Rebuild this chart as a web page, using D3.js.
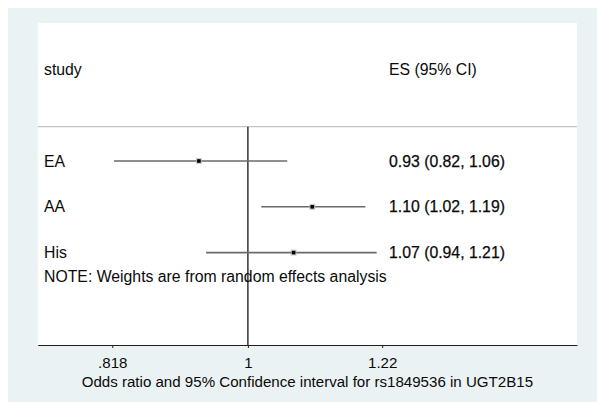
<!DOCTYPE html>
<html>
<head>
<meta charset="utf-8">
<script src="https://cdn.jsdelivr.net/npm/d3@7"></script>
<style>
  html, body { margin: 0; padding: 0; background: #ffffff; }
  svg { display: block; font-family: "Liberation Sans", Arial, Helvetica, sans-serif; }
</style>
</head>
<body>
<svg id="chart" width="597" height="402"></svg>
<script>
// Study-level odds ratios with 95% confidence intervals
const studies = ["EA", "AA", "His"];
const estimates = [0.93, 1.10, 1.07];
const lower = [0.82, 1.02, 0.94];
const upper = [1.06, 1.19, 1.21];
const esLabels = ["0.93 (0.82, 1.06)", "1.10 (1.02, 1.19)", "1.07 (0.94, 1.21)"];
const tickValues = [0.818, 1, 1.22];
const tickLabels = [".818", "1", "1.22"];
const xTitle = "Odds ratio and 95% Confidence interval for rs1849536 in UGT2B15";
const note = "NOTE: Weights are from random effects analysis";

const svg = d3.select("#chart");
const W = 597, H = 402;

// outer background (light slate) with a thin white strip at top/left
svg.append("rect").attr("x", 0).attr("y", 0).attr("width", W).attr("height", H).attr("fill", "#ffffff");
svg.append("rect").attr("x", 8).attr("y", 8).attr("width", W - 8).attr("height", H - 8).attr("fill", "#eaf2f3");

const plot = { left: 37.7, right: 577, top: 23, bottom: 345 };
svg.append("rect")
  .attr("x", plot.left).attr("y", plot.top)
  .attr("width", plot.right - plot.left).attr("height", plot.bottom - plot.top)
  .attr("fill", "#ffffff");

// log-scaled odds-ratio axis
const x = d3.scaleLog().domain([0.7325, 1.628]).range([plot.left, plot.right]);
// row positions: index -2 is the header, 0..2 the studies
const y = d3.scaleLinear().domain([0, 1]).range([161, 206.8]);

const textColor = "#0a0a0a";
const fs = 15.8;

// header
svg.append("text").attr("x", 44).attr("y", y(-2)).attr("dy", "0.35em")
  .attr("font-size", fs).attr("fill", textColor).text("study");
svg.append("text").attr("x", 389).attr("y", y(-2)).attr("dy", "0.35em")
  .attr("font-size", fs).attr("fill", textColor).text("ES (95% CI)");

// separator under the header
svg.append("line")
  .attr("x1", plot.left).attr("x2", plot.right)
  .attr("y1", y(-0.75)).attr("y2", y(-0.75))
  .attr("stroke", "#c4c4c4").attr("stroke-width", 1.2);

// line of no effect
svg.append("line")
  .attr("x1", x(1)).attr("x2", x(1))
  .attr("y1", y(-0.75)).attr("y2", plot.bottom)
  .attr("stroke", "#000000").attr("stroke-width", 1.2);

const rows = svg.append("g").selectAll("g")
  .data(studies.map((s, i) => ({ s, i, es: estimates[i], lo: lower[i], hi: upper[i], lab: esLabels[i] })))
  .join("g");

rows.append("text").attr("x", 44).attr("y", d => y(d.i)).attr("dy", "0.35em")
  .attr("font-size", fs).attr("fill", textColor).text(d => d.s);

rows.append("line")
  .attr("x1", d => x(d.lo)).attr("x2", d => x(d.hi))
  .attr("y1", d => y(d.i)).attr("y2", d => y(d.i))
  .attr("stroke", "#6a6a6a").attr("stroke-width", 1.6);

// weight box (tiny) and point estimate
rows.append("rect")
  .attr("x", d => x(d.es) - 3).attr("y", d => y(d.i) - 3)
  .attr("width", 6).attr("height", 6)
  .attr("fill", "#b8b8b8").attr("opacity", 0.7);
rows.append("rect")
  .attr("x", d => x(d.es) - 1.8).attr("y", d => y(d.i) - 1.8)
  .attr("width", 3.6).attr("height", 3.6)
  .attr("fill", "#000000");

rows.append("text").attr("x", 389).attr("y", d => y(d.i)).attr("dy", "0.35em")
  .attr("font-size", fs).attr("fill", textColor)
  .attr("stroke", textColor).attr("stroke-width", 0.25)
  .text(d => d.lab);

// note line
svg.append("text").attr("x", 44).attr("y", y(2.52)).attr("dy", "0.35em")
  .attr("font-size", fs).attr("fill", textColor).text(note);

// x axis
const axis = d3.axisBottom(x)
  .tickValues(tickValues)
  .tickFormat((d, i) => tickLabels[i])
  .tickSizeInner(3).tickSizeOuter(0).tickPadding(9);
const gx = svg.append("g").attr("transform", `translate(0,${plot.bottom})`).call(axis);
gx.select(".domain").attr("stroke", "#222222").attr("stroke-width", 1.2);
gx.selectAll(".tick line").attr("stroke", "#222222");
gx.selectAll(".tick text").attr("font-size", 15.1).attr("fill", textColor)
  .attr("font-family", "\"Liberation Sans\", Arial, sans-serif");

svg.append("text")
  .attr("x", (plot.left + plot.right) / 2).attr("y", 382).attr("dy", "0.35em")
  .attr("text-anchor", "middle").attr("font-size", 15.1).attr("fill", textColor)
  .text(xTitle);
</script>
</body>
</html>
